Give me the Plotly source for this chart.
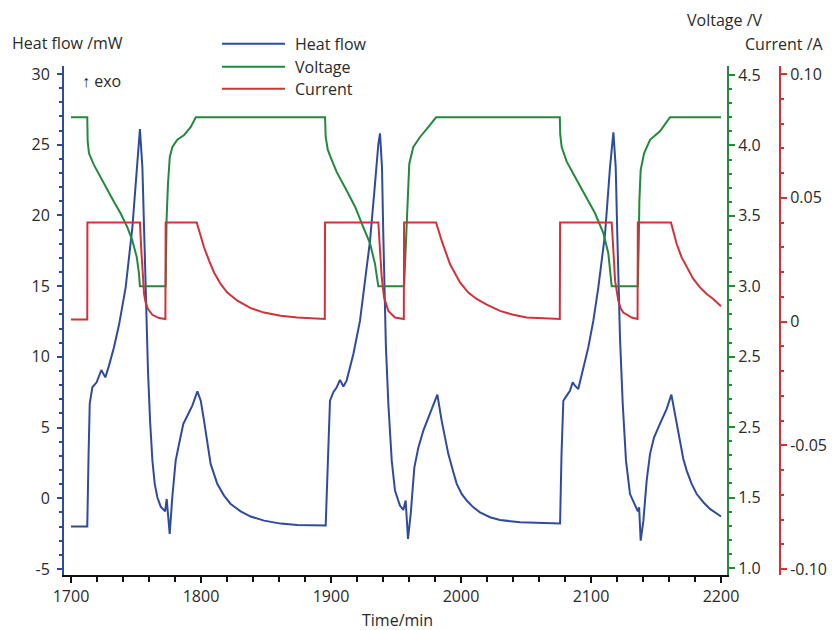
import plotly.graph_objects as go

# ---- Heat flow (mW) ----
heat_t = [1700, 1712.5, 1713.5, 1714.4, 1716.4, 1719.7, 1723.3, 1726.4, 1729.2, 1733, 1737,
          1742, 1747.2, 1750.5, 1753, 1754.9, 1756.2, 1758.2, 1759.2, 1760.8, 1762.6, 1764.4,
          1766.4, 1769, 1771.5, 1772.4, 1773.6, 1775.9, 1777.9, 1780.5, 1783.1, 1786.4,
          1789.5, 1793.3, 1797.2, 1799.8, 1802.3, 1804.9, 1807.4, 1812.5, 1817.7, 1822.8,
          1830.5, 1838.2, 1848.5, 1861.3, 1874, 1895.9,
          1897.3, 1899.2, 1901.8, 1904.4, 1906.9, 1909.5, 1912, 1917.2, 1922.3, 1924.8, 1930,
          1933.8, 1936.4, 1937.7, 1939.2, 1940.2, 1942.2, 1944.1, 1946.7, 1949.2, 1953, 1955.6,
          1957.4, 1959.2, 1961.3, 1964.1, 1967.2, 1971, 1976.2, 1981.8, 1985.1, 1990.2, 1994.1,
          1996.7, 2000.5, 2004.4, 2009.5, 2014.6, 2022.3, 2030, 2045.4, 2076.2,
          2077.3, 2078.7, 2081.3, 2083.8, 2085.9, 2087.7, 2090.2, 2092.8, 2097.9, 2101.8, 2105.6,
          2110.8, 2114.6, 2117.2, 2119, 2120.2, 2122.3, 2124.4, 2126.9, 2130, 2133.8, 2136, 2137,
          2138.2, 2140.3, 2142.8, 2145.4, 2148.5, 2153, 2158.2, 2161.8, 2164.6, 2168.5, 2171,
          2173.6, 2177.4, 2181.3, 2186.4, 2191.5, 2196.7, 2200]
heat_mw = [-2.0, -2.0, 3.1, 6.7, 7.85, 8.2, 9.07, 8.55, 9.38, 10.67, 12.3,
           14.9, 19.15, 23.4, 26.1, 23.4, 18.7, 11.3, 9.02, 5.49, 2.66, 1.02,
           0.07, -0.59, -0.87, -0.92, -0.05, -2.52, 0.07, 2.66, 3.84, 5.26,
           5.84, 6.55, 7.56, 6.9, 5.49, 3.84, 2.43, 1.02, 0.19, -0.40,
           -0.92, -1.29, -1.58, -1.79, -1.88, -1.93,
           2.0, 6.9, 7.5, 7.85, 8.37, 7.9, 8.32, 10.2, 12.56, 14.45, 18.2,
           22.2, 25.05, 25.8, 23.4, 18.7, 10.8, 6.67, 2.66, 0.54, -0.52, -0.82,
           -0.16, -2.87, -1.1, 2.19, 3.6, 4.78, 5.96, 7.33, 5.49, 3.14, 1.84,
           1.02, 0.31, -0.16, -0.64, -0.99, -1.34, -1.53, -1.70, -1.78,
           3.1, 6.9, 7.26, 7.6, 8.2, 7.96, 7.73, 8.8, 10.67, 12.56, 14.9,
           18.7, 23.4, 25.87, 23.4, 18.7, 11.3, 6.67, 2.66, 0.3, -0.52, -0.92, -0.64,
           -3.0, -1.58, 1.25, 3.14, 4.31, 5.26, 6.32, 7.33, 5.96, 3.84, 2.78,
           1.96, 1.02, 0.3, -0.28, -0.75, -1.1, -1.29]

# ---- Cell voltage (V) ----
volt_t = [1700, 1712.5, 1712.8, 1713.8, 1717.7, 1722.8, 1728, 1733, 1738, 1743.3, 1747,
          1750.5, 1752.3, 1753, 1772.8, 1773.5, 1774.6, 1776, 1778, 1781.8, 1787, 1792, 1796,
          1895.4, 1895.9, 1897.5, 1899.5, 1904.4, 1912, 1918.5, 1924.8, 1930, 1933.8, 1936.4,
          1956.2, 1957.5, 1958.7, 1960.2, 1963.3, 1968.5, 1974.8, 1980.8,
          2076.0, 2076.3, 2077.4, 2081.3, 2089, 2096.7, 2103, 2109.5, 2113.3, 2115.9,
          2136, 2136.7, 2137.2, 2138.2, 2140.8, 2145.4, 2153, 2160.8, 2200]
volt_v = [4.2, 4.2, 4.03, 3.944, 3.86, 3.77, 3.68, 3.60, 3.52, 3.42, 3.33,
          3.21, 3.09, 3.0, 3.0, 3.47, 3.73, 3.92, 3.99, 4.04, 4.074, 4.13, 4.2,
          4.2, 4.06, 3.97, 3.92, 3.81, 3.68, 3.565, 3.42, 3.305, 3.16, 3.0,
          3.0, 3.26, 3.61, 3.87, 3.99, 4.06, 4.13, 4.2,
          4.2, 4.08, 3.99, 3.885, 3.755, 3.625, 3.52, 3.377, 3.235, 3.0,
          3.0, 3.3, 3.61, 3.826, 3.944, 4.04, 4.1, 4.2, 4.2]

# ---- Current (A) ----
curr_t = [1700, 1712.5, 1712.6, 1753, 1754.1, 1755.1, 1756.2, 1757.4, 1759.2, 1762.6, 1767.7,
          1772.6,
          1772.8, 1796.7, 1798.5, 1802.3, 1806.2, 1810, 1815.2, 1820.2, 1828, 1838.2, 1848.5,
          1861.3, 1874, 1895.2,
          1895.4, 1936.4, 1937.7, 1939, 1940.8, 1942.3, 1944.1, 1949.2, 1956.0,
          1956.2, 1980.8, 1985.1, 1991.5, 1999.2, 2005.6, 2012, 2019.8, 2030, 2040.2, 2050.5,
          2076.0,
          2076.2, 2115.9, 2117.2, 2118.5, 2121, 2122.8, 2124.8, 2131.3, 2135.8,
          2136, 2161.5, 2165.9, 2169.7, 2173.6, 2178.7, 2183.8, 2189, 2194, 2200]
curr_a = [0.0008, 0.0008, 0.04, 0.04, 0.0286, 0.0178, 0.0111, 0.0077, 0.0050, 0.0027, 0.0014,
          0.001,
          0.04, 0.04, 0.0367, 0.0300, 0.0246, 0.0198, 0.0151, 0.0117, 0.0084, 0.0054, 0.0036,
          0.0023, 0.0016, 0.001,
          0.04, 0.04, 0.0286, 0.0178, 0.0097, 0.0068, 0.0043, 0.0016, 0.001,
          0.04, 0.04, 0.0327, 0.0232, 0.0158, 0.0117, 0.0091, 0.0068, 0.0043, 0.0027, 0.0016,
          0.001,
          0.04, 0.04, 0.0286, 0.0165, 0.0084, 0.0054, 0.0036, 0.0016, 0.001,
          0.04, 0.04, 0.0313, 0.0259, 0.0219, 0.0172, 0.0138, 0.0111, 0.0091, 0.0062]

# ---- Axis ticks ----
time_ticks = [1700, 1800, 1900, 2000, 2100, 2200]
heat_ticks = [-5, 0, 5, 10, 15, 20, 25, 30]
heat_labels = ["-5", "0", "5", "10", "15", "20", "25", "30"]
volt_ticks = [1.0, 1.5, 2.0, 2.5, 3.0, 3.5, 4.0, 4.5]
volt_labels = ["1.0", "1.5", "2.5", "2.5", "3.0", "3.5", "4.0", "4.5"]
curr_ticks = [-0.10, -0.05, 0.0, 0.05, 0.10]
curr_labels = ["-0.10", "-0.05", "0", "0.05", "0.10"]

BLUE = "#2f4b9e"
GREEN = "#23893c"
RED = "#d1323a"
TEXT = "#2a2a2a"
FONT = "Open Sans"
FSIZE = 16

W, H = 832, 630
# plot area in pixels
X0, X1 = 64, 727
Y0, Y1 = 66, 575


def px(x):
    return x / W


def py(y):
    return 1 - y / H


fig = go.Figure()
fig.add_trace(go.Scatter(x=heat_t, y=heat_mw, mode="lines", name="Heat flow",
                         line=dict(color=BLUE, width=2), yaxis="y"))
fig.add_trace(go.Scatter(x=volt_t, y=volt_v, mode="lines", name="Voltage",
                         line=dict(color=GREEN, width=2), yaxis="y2"))
fig.add_trace(go.Scatter(x=curr_t, y=curr_a, mode="lines", name="Current",
                         line=dict(color=RED, width=2), yaxis="y3"))

tickfont = dict(family=FONT, size=FSIZE, color=TEXT)

fig.update_layout(
    width=W, height=H,
    margin=dict(l=0, r=0, t=0, b=0, autoexpand=False),
    paper_bgcolor="white", plot_bgcolor="white",
    showlegend=False,
    font=dict(family=FONT, size=FSIZE, color=TEXT),
    xaxis=dict(
        domain=[px(X0), px(X1)], range=[1694.6, 2204.6], automargin=False,
        showline=True, linecolor="#111111", linewidth=2,
        showgrid=False, zeroline=False,
        ticks="outside", ticklen=6, tickwidth=2, tickcolor="#111111",
        tickmode="array", tickvals=time_ticks,
        ticktext=[str(v) for v in time_ticks], tickfont=tickfont,
        minor=dict(dtick=20, tick0=1700, ticks="outside", ticklen=5,
                   tickwidth=2, tickcolor="#111111", showgrid=False),
        anchor="y",
    ),
    yaxis=dict(
        domain=[py(Y1), py(Y0)], range=[-5.424, 30.566], automargin=False,
        showline=True, linecolor=BLUE, linewidth=2,
        showgrid=False, zeroline=False,
        ticks="outside", ticklen=5, tickwidth=2, tickcolor=BLUE,
        tickmode="array", tickvals=heat_ticks, ticktext=heat_labels,
        tickfont=tickfont, ticklabelstandoff=4,
        minor=dict(dtick=1, tick0=0, ticks="outside", ticklen=3,
                   tickwidth=2, tickcolor=BLUE, showgrid=False),
        anchor="x", side="left",
    ),
    yaxis2=dict(
        domain=[py(Y1), py(Y0)], range=[0.950, 4.564], automargin=False,
        overlaying="y", side="right", anchor="x",
        showline=True, linecolor=GREEN, linewidth=2,
        showgrid=False, zeroline=False,
        ticks="outside", ticklen=6, tickwidth=2, tickcolor=GREEN,
        tickmode="array", tickvals=volt_ticks, ticktext=volt_labels,
        tickfont=tickfont,
        minor=dict(dtick=0.1, tick0=1.0, ticks="outside", ticklen=3,
                   tickwidth=2, tickcolor=GREEN, showgrid=False),
    ),
    yaxis3=dict(
        domain=[py(Y1), py(Y0)], range=[-0.10242, 0.10323], automargin=False,
        overlaying="y", side="right", anchor="free", position=px(780),
        showline=True, linecolor=RED, linewidth=2,
        showgrid=False, zeroline=False,
        ticks="outside", ticklen=6, tickwidth=2, tickcolor=RED,
        tickmode="array", tickvals=curr_ticks, ticktext=curr_labels,
        tickfont=tickfont,
        minor=dict(dtick=0.01, tick0=0, ticks="outside", ticklen=3,
                   tickwidth=2, tickcolor=RED, showgrid=False),
    ),
)

# axis titles and note
titles = [
    ("Heat flow /mW", 10, 43, "left"),
    ("Voltage /V", 685, 20, "left"),
    ("Current /A", 743, 44, "left"),
    ("Time/min", 397, 620, "center"),
    ("\u2191 exo", 80, 81, "left"),
]
for text, x, y, anchor in titles:
    fig.add_annotation(text=text, x=px(x), y=py(y), xref="paper", yref="paper",
                       xanchor=anchor, yanchor="middle", showarrow=False,
                       font=dict(family=FONT, size=FSIZE, color=TEXT))

# legend
legend_items = [("Heat flow", BLUE, 43.7), ("Voltage", GREEN, 66.7), ("Current", RED, 88.7)]
for name, color, y in legend_items:
    fig.add_shape(type="line", xref="paper", yref="paper",
                  x0=px(222), x1=px(285), y0=py(y), y1=py(y),
                  line=dict(color=color, width=2))
    fig.add_annotation(text=name, x=px(293), y=py(y), xref="paper", yref="paper",
                       xanchor="left", yanchor="middle", showarrow=False,
                       font=dict(family=FONT, size=FSIZE, color=TEXT))

fig.write_html("out.html")
